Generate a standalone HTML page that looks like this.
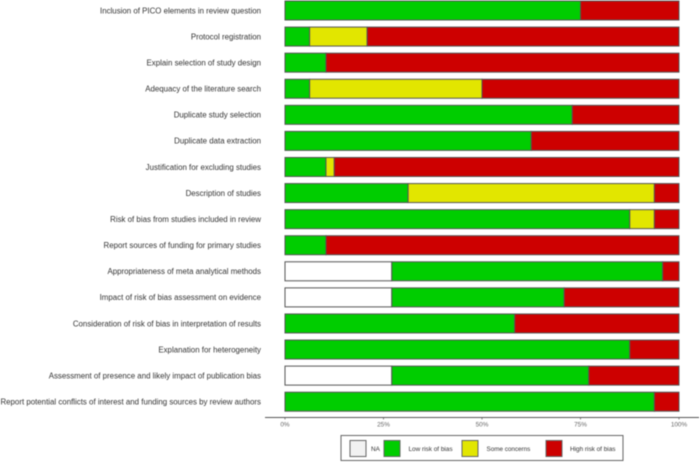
<!DOCTYPE html>
<html>
<head>
<meta charset="utf-8">
<style>
html,body{margin:0;padding:0;background:#fff;width:700px;height:462px;overflow:hidden}
svg{display:block;filter:blur(0.45px)}
text{font-family:"Liberation Sans",Arial,sans-serif}
</style>
</head>
<body>
<svg id="chart" width="700" height="462" viewBox="0 0 700 462" xmlns="http://www.w3.org/2000/svg">
  <g id="bars"></g>
  <g id="labels"></g>
  <g id="axis">
    <line x1="265" y1="417.5" x2="699" y2="417.5" stroke="#555" stroke-width="1"></line>
  </g>
  <g>
    <rect x="341" y="435.5" width="282" height="25" fill="#fff" stroke="#666" stroke-width="1"></rect>
    <rect x="350" y="440.5" width="16" height="16" fill="#f2f2f2" stroke="#666" stroke-width="1"></rect>
    <text x="371" y="451" font-size="6.4" fill="#333">NA</text>
    <rect x="384" y="440.5" width="16" height="16" fill="#00cd00" stroke="#666" stroke-width="1"></rect>
    <text x="408.5" y="451" font-size="6.4" fill="#333">Low risk of bias</text>
    <rect x="462" y="440.5" width="16" height="16" fill="#e2e600" stroke="#666" stroke-width="1"></rect>
    <text x="486.5" y="451" font-size="6.3" fill="#333">Some concerns</text>
    <rect x="546" y="440.5" width="16" height="16" fill="#cd0000" stroke="#666" stroke-width="1"></rect>
    <text x="570" y="451" font-size="6.4" fill="#333">High risk of bias</text>
  </g>
</svg>
<script>
const categories = [
  "Inclusion of PICO elements in review question",
  "Protocol registration",
  "Explain selection of study design",
  "Adequacy of the literature search",
  "Duplicate study selection",
  "Duplicate data extraction",
  "Justification for excluding studies",
  "Description of studies",
  "Risk of bias from studies included in review",
  "Report sources of funding for primary studies",
  "Appropriateness of meta analytical methods",
  "Impact of risk of bias assessment on evidence",
  "Consideration of risk of bias in interpretation of results",
  "Explanation for heterogeneity",
  "Assessment of presence and likely impact of publication bias",
  "Report potential conflicts of interest and funding sources by review authors"
];
const naValues   = [0, 0, 0, 0, 0, 0, 0, 0, 0, 0, 27.1, 27.1, 0, 0, 27.1, 0];
const lowValues  = [75, 6.25, 10.4, 6.25, 72.9, 62.5, 10.4, 31.25, 87.5, 10.4, 68.75, 43.75, 58.3, 87.5, 50, 93.75];
const someValues = [0, 14.6, 0, 43.75, 0, 0, 2.1, 62.5, 6.25, 0, 0, 0, 0, 0, 0, 0];
const highValues = [25, 79.15, 89.6, 50, 27.1, 37.5, 87.5, 6.25, 6.25, 89.6, 4.15, 29.15, 41.7, 12.5, 22.9, 6.25];
const tickValues = [0, 25, 50, 75, 100];
const tickLabels = ["0%", "25%", "50%", "75%", "100%"];

const NS = "http://www.w3.org/2000/svg";
function xScale(v) { return 285 + v * (679 - 285) / 100; }
function yCenter(i) { return 10.5 + i * 26.08; }
const barHeight = 19;

const barsG = document.getElementById("bars");
const labelsG = document.getElementById("labels");
const axisG = document.getElementById("axis");

const seriesList = [
  { key: "na", values: naValues, fill: "#ffffff" },
  { key: "low", values: lowValues, fill: "#00cd00" },
  { key: "some", values: someValues, fill: "#e2e600" },
  { key: "high", values: highValues, fill: "#cd0000" }
];

categories.forEach(function (cat, i) {
  const label = document.createElementNS(NS, "text");
  
  
  label.setAttribute("x", 261);
  label.setAttribute("y", yCenter(i) + 2.8);
  label.setAttribute("text-anchor", "end");
  label.setAttribute("font-size", "7.9");
  label.setAttribute("fill", "#333");
  label.textContent = cat;
  labelsG.appendChild(label);

  let cum = 0;
  seriesList.forEach(function (s) {
    const v = s.values[i];
    if (v > 0) {
      const r = document.createElementNS(NS, "rect");
      
      
      r.setAttribute("data-series", s.key);
      r.setAttribute("x", xScale(cum));
      r.setAttribute("y", yCenter(i) - barHeight / 2);
      r.setAttribute("width", xScale(cum + v) - xScale(cum));
      r.setAttribute("height", barHeight);
      r.setAttribute("fill", s.fill);
      r.setAttribute("stroke", "#555");
      r.setAttribute("stroke-width", "1");
      barsG.appendChild(r);
    }
    cum += v;
  });
});

tickValues.forEach(function (t, i) {
  const tick = document.createElementNS(NS, "line");
  
  
  tick.setAttribute("x1", xScale(t));
  tick.setAttribute("x2", xScale(t));
  tick.setAttribute("y1", 417.5);
  tick.setAttribute("y2", 419.5);
  tick.setAttribute("stroke", "#555");
  tick.setAttribute("stroke-width", "0.7");
  axisG.appendChild(tick);

  const lab = document.createElementNS(NS, "text");
  
  
  lab.setAttribute("x", xScale(t));
  lab.setAttribute("y", 426.5);
  lab.setAttribute("text-anchor", "middle");
  lab.setAttribute("font-size", "6.4");
  lab.setAttribute("fill", "#666");
  lab.textContent = tickLabels[i];
  axisG.appendChild(lab);
});
</script>
</body>
</html>
